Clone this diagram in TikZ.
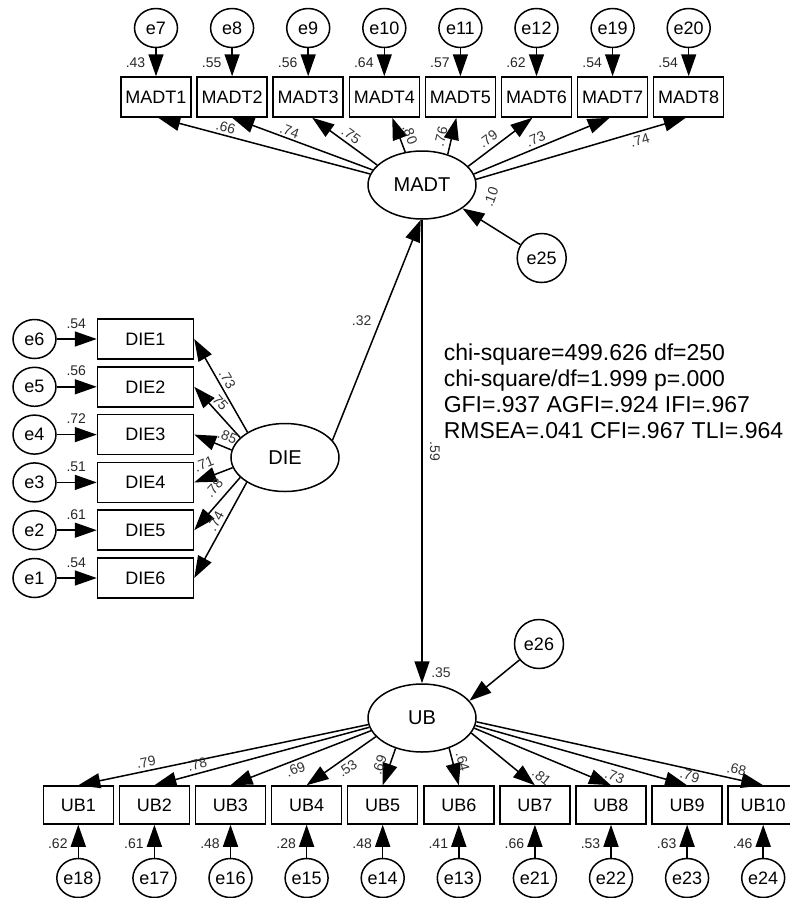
\documentclass[tikz,border=0pt]{standalone}
\usepackage{fontspec}
\setmainfont{Liberation Sans}
\usetikzlibrary{arrows.meta,positioning,shapes.geometric}

\begin{document}
\begin{tikzpicture}[
  x=1pt,y=-1pt,
  node distance=4.6pt,
  line width=1.5pt,
  box/.style={draw,minimum width=70pt,minimum height=40pt,inner sep=0pt,
              font=\fontsize{18}{18}\selectfont},
  dbox/.style={box,minimum width=96pt},
  ubox/.style={box,minimum height=38pt},
  lat/.style={draw,ellipse,minimum width=108pt,minimum height=68pt,inner sep=0pt,
              font=\fontsize{20}{20}\selectfont},
  err/.style={draw,ellipse,minimum width=43pt,minimum height=39pt,inner sep=0pt,
              font=\fontsize{18}{18}\selectfont},
  dist/.style={draw,circle,minimum size=49pt,inner sep=0pt,
               font=\fontsize{18}{18}\selectfont},
  arr/.style={-{Triangle[length=22pt,width=15pt]}},
  load/.style={font=\fontsize{14}{14}\selectfont,text=black!80,inner sep=1pt},
  rsq/.style={font=\fontsize{14}{14}\selectfont,text=black!85,inner sep=1pt},
  rtop/.style={rsq,pos=1,anchor=south east,xshift=-9pt,yshift=7pt},
  rleft/.style={rsq,pos=1,anchor=south east,xshift=-9pt,yshift=9pt},
  rbot/.style={rsq,pos=1,anchor=north east,xshift=-9pt,yshift=-12pt}
]
\useasboundingbox (0,0) rectangle (790,898);

% latent variables
\node[lat] (MADT) at (422,185) {MADT};
\node[lat] (DIE)  at (285,457.5) {DIE};
\node[lat] (UB)   at (422,718) {UB};

% MADT indicators
\node[box] (madt1) at (156,97) {MADT1};
\node[box,right=of madt1] (madt2) {MADT2};
\node[box,right=of madt2] (madt3) {MADT3};
\node[box,right=of madt3] (madt4) {MADT4};
\node[box,right=of madt4] (madt5) {MADT5};
\node[box,right=of madt5] (madt6) {MADT6};
\node[box,right=of madt6] (madt7) {MADT7};
\node[box,right=of madt7] (madt8) {MADT8};

\node[err,above=28pt of madt1] (e7)  {e7};
\node[err,above=28pt of madt2] (e8)  {e8};
\node[err,above=28pt of madt3] (e9)  {e9};
\node[err,above=28pt of madt4] (e10) {e10};
\node[err,above=28pt of madt5] (e11) {e11};
\node[err,above=28pt of madt6] (e12) {e12};
\node[err,above=28pt of madt7] (e19) {e19};
\node[err,above=28pt of madt8] (e20) {e20};

\draw[arr] (e7)  -- node[rtop]{.43} (madt1);
\draw[arr] (e8)  -- node[rtop]{.55} (madt2);
\draw[arr] (e9)  -- node[rtop]{.56} (madt3);
\draw[arr] (e10) -- node[rtop]{.64} (madt4);
\draw[arr] (e11) -- node[rtop]{.57} (madt5);
\draw[arr] (e12) -- node[rtop]{.62} (madt6);
\draw[arr] (e19) -- node[rtop]{.54} (madt7);
\draw[arr] (e20) -- node[rtop]{.54} (madt8);

\draw[arr] (MADT.168)   -- node[load,sloped,above=1pt,pos=0.69]{.66} (madt1.-84);
\draw[arr] (MADT.163)   -- node[load,sloped,above=1pt,pos=0.61]{.74} (madt2.south);
\draw[arr] (MADT.156.5) -- node[load,sloped,above=2pt,pos=0.48]{.75} (madt3.-79);
\draw[arr] (MADT.117)   -- node[load,sloped,above=4pt,pos=0.40]{.80} (madt4.-69);
\draw[arr] (MADT.50)    -- node[load,sloped,above=4pt,pos=0.42]{.76} (madt5.-101);
\draw[arr] (MADT.22)    -- node[load,sloped,above=3pt,pos=0.40]{.79} (madt6.-101);
\draw[arr] (MADT.12)    -- node[load,sloped,above=2pt,pos=0.48]{.73} (madt7.-98);
\draw[arr] (MADT.6)     -- node[load,sloped,below=2pt,pos=0.77]{.74} (madt8.-98);

% DIE indicators
\node[dbox] (die1) at (145.5,339) {DIE1};
\node[dbox,below=6.3pt of die1] (die2) {DIE2};
\node[dbox,below=6.3pt of die2] (die3) {DIE3};
\node[dbox,below=6.3pt of die3] (die4) {DIE4};
\node[dbox,below=6.3pt of die4] (die5) {DIE5};
\node[dbox,below=6.3pt of die5] (die6) {DIE6};

\node[err,left=40pt of die1] (e6) {e6};
\node[err,left=40pt of die2] (e5) {e5};
\node[err,left=40pt of die3] (e4) {e4};
\node[err,left=40pt of die4] (e3) {e3};
\node[err,left=40pt of die5] (e2) {e2};
\node[err,left=40pt of die6] (e1) {e1};

\draw[arr] (e6) -- node[rleft]{.54} (die1);
\draw[arr] (e5) -- node[rleft]{.56} (die2);
\draw[arr] (e4) -- node[rleft]{.72} (die3);
\draw[arr] (e3) -- node[rleft]{.51} (die4);
\draw[arr] (e2) -- node[rleft]{.61} (die5);
\draw[arr] (e1) -- node[rleft]{.54} (die6);

\draw[arr] (DIE.146) -- node[load,sloped,above=2pt,pos=0.52]{.73} (die1.east);
\draw[arr] (DIE.156) -- node[load,sloped,above=2pt,pos=0.60]{.75} (die2.east);
\draw[arr] (DIE.172) -- node[load,sloped,above=4pt,pos=0.22]{.85} (die3.east);
\draw[arr] (DIE.191) -- node[load,sloped,above=7pt,pos=0.62]{.71} (die4.east);
\draw[arr] (DIE.204) -- node[load,sloped,above=6pt,pos=0.36]{.78} (die5.east);
\draw[arr] (DIE.213) -- node[load,sloped,above=2pt,pos=0.45]{.74} (die6.east);

% UB indicators
\node[ubox] (ub1) at (78.3,805) {UB1};
\node[ubox,right=of ub1] (ub2)  {UB2};
\node[ubox,right=of ub2] (ub3)  {UB3};
\node[ubox,right=of ub3] (ub4)  {UB4};
\node[ubox,right=of ub4] (ub5)  {UB5};
\node[ubox,right=of ub5] (ub6)  {UB6};
\node[ubox,right=of ub6] (ub7)  {UB7};
\node[ubox,right=of ub7] (ub8)  {UB8};
\node[ubox,right=of ub8] (ub9)  {UB9};
\node[ubox,right=of ub9] (ub10) {UB10};

\node[err,below=33pt of ub1]  (e18) {e18};
\node[err,below=33pt of ub2]  (e17) {e17};
\node[err,below=33pt of ub3]  (e16) {e16};
\node[err,below=33pt of ub4]  (e15) {e15};
\node[err,below=33pt of ub5]  (e14) {e14};
\node[err,below=33pt of ub6]  (e13) {e13};
\node[err,below=33pt of ub7]  (e21) {e21};
\node[err,below=33pt of ub8]  (e22) {e22};
\node[err,below=33pt of ub9]  (e23) {e23};
\node[err,below=33pt of ub10] (e24) {e24};

\draw[arr] (e18) -- node[rbot]{.62} (ub1);
\draw[arr] (e17) -- node[rbot]{.61} (ub2);
\draw[arr] (e16) -- node[rbot]{.48} (ub3);
\draw[arr] (e15) -- node[rbot]{.28} (ub4);
\draw[arr] (e14) -- node[rbot]{.48} (ub5);
\draw[arr] (e13) -- node[rbot]{.41} (ub6);
\draw[arr] (e21) -- node[rbot]{.66} (ub7);
\draw[arr] (e22) -- node[rbot]{.53} (ub8);
\draw[arr] (e23) -- node[rbot]{.63} (ub9);
\draw[arr] (e24) -- node[rbot]{.46} (ub10);

\draw[arr] (UB.187)   -- node[load,sloped,above=2pt,pos=0.76]{.79} (ub1.north);
\draw[arr] (UB.190.4) -- node[load,sloped,above=2pt,pos=0.79]{.78} (ub2.north);
\draw[arr] (UB.194.5) -- node[load,sloped,below=2pt,pos=0.56]{.69} (ub3.north);
\draw[arr] (UB.202.6) -- node[load,sloped,below=3pt,pos=0.49]{.53} (ub4.north);
\draw[arr] (UB.229)   -- node[load,sloped,above=3pt,pos=0.54]{.69} (ub5.north);
\draw[arr] (UB.312)   -- node[load,sloped,above=3pt,pos=0.43]{.64} (ub6.north);
\draw[arr] (UB.343)   -- node[load,sloped,above=4pt,pos=1]{.81} (ub7.north);
\draw[arr] (UB.349)   -- node[load,sloped,above=3pt,pos=1]{.73} (ub8.north);
\draw[arr] (UB.352.6) -- node[load,sloped,above=3pt,pos=1]{.79} (ub9.north);
\draw[arr] (UB.356)   -- node[load,sloped,above=3pt,pos=0.9]{.68} (ub10.north);

% structural part
\node[dist] (e25) at (541.7,258) {e25};
\node[dist] (e26) at (539,644) {e26};
\draw[arr] (e25) -- (MADT.-30);
\draw[arr] (e26) -- (UB.20);
\node[load,rotate=70] (r2madt) at (491,197) {.10};
\node[load] (r2ub) at (441,673) {.35};

\draw[arr] (DIE.20) -- node[load,left=7pt,pos=0.54]{.32} (MADT.268);
\draw[arr] (MADT.south) -- node[load,pos=0.5,xshift=13pt,rotate=-90]{.59} (UB.north);

\node[anchor=north west,align=left,inner sep=0pt,font=\fontsize{23}{26}\selectfont]
  (fit) at (443,343) {chi-square=499.626 df=250\\chi-square/df=1.999 p=.000\\
  GFI=.937 AGFI=.924 IFI=.967\\RMSEA=.041 CFI=.967 TLI=.964};
\end{tikzpicture}
\end{document}
